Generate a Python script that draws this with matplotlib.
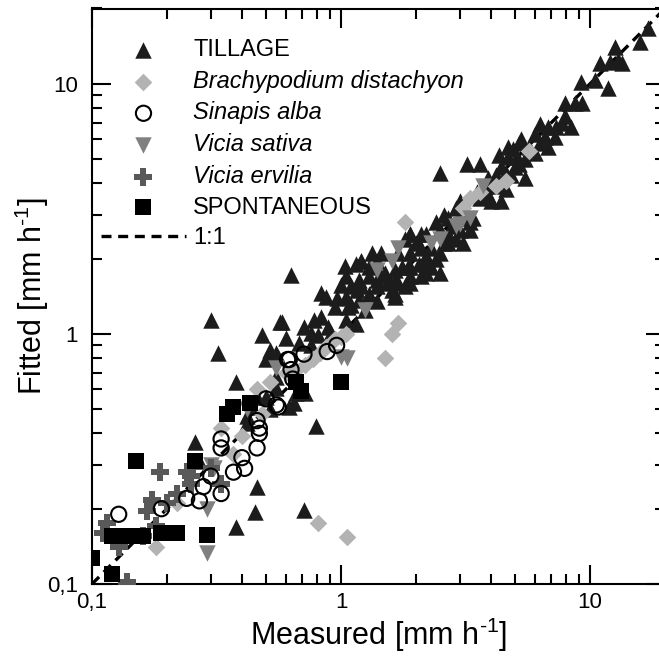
import numpy as np
import matplotlib
matplotlib.use("Agg")
import matplotlib.pyplot as plt

plt.rcParams['font.family'] = ['Liberation Sans', 'DejaVu Sans']
plt.rcParams['mathtext.default'] = 'regular'

# TILLAGE (measured, fitted)
tillage_x = [17.1, 15.8, 12.6, 13.0, 13.5, 11.0, 12.0, 9.2, 10.5, 11.8, 7.9, 8.7, 9.3, 7.9, 7.3, 8.4,
             6.8, 6.0, 6.6, 7.2, 5.2, 5.7, 4.7, 6.0, 6.8, 4.7, 4.3, 5.1, 5.5, 4.4, 5.0, 4.2, 4.6, 5.5,
             3.6, 3.2, 2.5, 3.8, 4.2, 4.6, 4.4, 4.0, 3.6, 2.9, 3.2, 3.4, 3.3, 3.0, 2.8, 2.7, 2.9, 2.6,
             2.5, 2.2, 2.1, 1.9, 2.0, 2.1, 2.3, 2.5, 1.9, 2.2, 2.05, 2.3, 1.9, 1.75, 1.7, 1.65, 1.7,
             1.9, 2.1, 2.2, 1.45, 1.4, 1.3, 1.2, 1.15, 1.3, 1.45, 1.55, 1.4, 1.2, 1.1, 1.3, 1.65,
             3.1, 2.5, 2.2,
             0.63, 0.83, 1.04, 0.58, 0.48, 0.6, 0.71, 0.78, 0.83, 0.89, 0.91, 0.81, 0.76, 0.68, 0.76,
             0.52, 0.55, 1.0, 1.05, 0.95, 1.07, 0.96, 1.16, 1.18, 1.2, 1.33, 1.18, 1.25, 1.15, 1.05,
             1.65, 1.65, 1.8, 1.85, 1.8, 1.9, 1.4, 1.5, 0.87,
             0.3, 0.32, 0.57, 0.38, 0.79, 0.65, 0.46, 0.45, 0.38, 0.71, 0.26, 0.27,
             0.56, 0.5, 0.55, 0.66, 0.72, 0.55, 0.5, 0.46, 0.42, 0.44, 0.42, 0.52, 0.62,
             2.4, 2.6, 3.5, 3.9, 4.9, 5.3, 6.3, 3.0, 2.7, 3.9, 4.8, 5.2, 6.3, 7.7, 1.6, 1.4,
             1.9, 2.4, 2.7, 3.3, 1.05, 1.1]
tillage_y = [16.7, 14.7, 14.0, 12.5, 12.1, 12.1, 12.2, 10.2, 10.4, 9.6, 8.4, 8.4, 8.4, 7.4, 6.7, 6.7,
             6.7, 6.3, 6.1, 6.1, 5.8, 5.6, 5.6, 5.3, 5.6, 5.1, 5.2, 5.1, 5.0, 4.65, 4.65, 4.3, 4.4, 4.2,
             4.8, 4.8, 4.4, 3.9, 3.9, 3.8, 3.4, 3.4, 3.5, 3.2, 2.9, 2.9, 2.6, 2.6, 2.7, 2.5, 2.4, 2.3,
             2.6, 2.5, 2.5, 2.5, 2.3, 2.2, 2.2, 2.1, 2.1, 2.05, 1.9, 1.85, 1.85, 1.85, 2.1, 1.8, 1.6,
             1.6, 1.7, 1.75, 2.1, 1.95, 1.85, 1.95, 1.9, 1.7, 1.7, 1.6, 1.55, 1.55, 1.55, 1.45, 1.45,
             2.3, 1.75, 1.9,
             1.72, 1.46, 1.86, 1.12, 0.99, 0.96, 1.07, 1.14, 1.17, 1.07, 1.01, 0.99, 1.01, 0.92, 0.9,
             0.86, 0.84, 1.57, 1.41, 1.28, 1.28, 1.39, 1.5, 1.65, 1.95, 2.1, 1.37, 1.25, 1.1, 1.14,
             1.41, 1.65, 1.55, 1.85, 2.4, 2.5, 1.65, 1.75, 1.41,
             1.14, 0.84, 1.12, 0.64, 0.43, 0.53, 0.245, 0.194, 0.169, 0.198, 0.37, 0.31,
             0.81, 0.79, 0.61, 0.58, 0.58, 0.67, 0.56, 0.56, 0.47, 0.51, 0.44, 0.5, 0.51,
             2.8, 3.0, 3.7, 4.2, 5.5, 6.0, 6.9, 3.4, 2.9, 3.6, 4.3, 4.8, 5.8, 7.0, 1.5, 1.35,
             1.7, 2.0, 2.3, 2.8, 1.7, 1.3]

# Brachypodium distachyon
brachy_x = [1.8, 3.1, 3.3, 3.6, 4.2, 4.6, 5.7, 1.7, 1.6, 1.5, 0.81, 1.06,
            0.95, 1.0, 0.87, 0.82, 0.77, 0.72, 1.05, 0.52, 0.46, 0.48, 0.4, 0.33,
            0.37, 0.22, 0.18, 0.6, 0.66]
brachy_y = [2.8, 3.2, 3.5, 3.7, 3.9, 4.1, 5.4, 1.11, 1.0, 0.8, 0.175, 0.154,
            0.95, 0.97, 0.89, 0.84, 0.79, 0.75, 1.0, 0.64, 0.6, 0.48, 0.39, 0.42,
            0.33, 0.21, 0.14, 0.7, 0.72]

# Sinapis alba
sinapis_x = [0.128, 0.19, 0.24, 0.27, 0.28, 0.30, 0.33, 0.37, 0.41, 0.4, 0.46, 0.47,
             0.33, 0.33, 0.5, 0.56, 0.46, 0.47, 0.63, 0.64, 0.61, 0.71, 0.88, 0.96,
             0.62, 0.55]
sinapis_y = [0.19, 0.2, 0.22, 0.215, 0.245, 0.27, 0.23, 0.28, 0.29, 0.32, 0.35, 0.4,
             0.35, 0.38, 0.55, 0.51, 0.45, 0.42, 0.72, 0.66, 0.79, 0.83, 0.85, 0.9,
             0.79, 0.52]

# Vicia sativa
sativa_x = [3.7, 3.3, 3.0, 2.5, 2.3, 1.7, 1.6, 1.4, 1.25, 1.06, 1.0, 0.55, 0.29, 0.29,
            0.42, 0.3, 0.31, 2.9]
sativa_y = [3.9, 2.9, 2.75, 2.4, 2.3, 2.2, 1.95, 1.8, 1.25, 0.8, 0.81, 0.73, 0.2, 0.133,
            0.5, 0.3, 0.29, 2.7]

# Vicia ervilia
ervilia_x = [0.187, 0.174, 0.166, 0.16, 0.115, 0.111, 0.128, 0.138, 0.18, 0.2, 0.24,
             0.25, 0.22, 0.3, 0.33, 0.25]
ervilia_y = [0.28, 0.216, 0.196, 0.155, 0.175, 0.16, 0.14, 0.102, 0.17, 0.21, 0.28,
             0.25, 0.23, 0.29, 0.25, 0.27]

# SPONTANEOUS
spont_x = [0.15, 0.1, 0.12, 0.12, 0.13, 0.14, 0.16, 0.19, 0.22, 0.29, 0.26, 0.35,
           0.37, 0.43, 0.66, 0.69, 1.0]
spont_y = [0.31, 0.127, 0.11, 0.156, 0.156, 0.156, 0.156, 0.16, 0.16, 0.157, 0.31, 0.48,
           0.51, 0.53, 0.64, 0.59, 0.64]

one_to_one = [0.1, 20]

fig = plt.figure(figsize=(6.59, 6.57), dpi=100)
ax = fig.add_axes([92 / 659, 1 - 584 / 657, (665 - 92) / 659, (584 - 8.5) / 657])

ax.plot(one_to_one, one_to_one, color='black', lw=2.4, ls=(0, (3, 2)), label='1:1', zorder=2)
ax.scatter(tillage_x, tillage_y, marker='^', s=140, color='#1c1c1c', linewidths=0,
           label='TILLAGE', zorder=3)
ax.scatter(brachy_x, brachy_y, marker='D', s=80, color='#b3b3b3', linewidths=0,
           label='Brachypodium distachyon', zorder=4)
ax.scatter(sinapis_x, sinapis_y, marker='o', s=120, facecolors='none', edgecolors='black',
           linewidths=1.5, label='Sinapis alba', zorder=5)
ax.scatter(sativa_x, sativa_y, marker='v', s=140, color='#808080', linewidths=0,
           label='Vicia sativa', zorder=4)
ax.scatter(ervilia_x, ervilia_y, marker='P', s=150, color='#595959', linewidths=0,
           label='Vicia ervilia', zorder=4)
ax.scatter(spont_x, spont_y, marker='s', s=120, color='black', linewidths=0,
           label='SPONTANEOUS', zorder=4)

ax.set_xscale('log')
ax.set_yscale('log')
ax.set_xlim(0.1, 20)
ax.set_ylim(0.1, 20)

ax.set_xticks([0.1, 1, 10])
ax.set_xticklabels(['0,1', '1', '10'])
ax.set_yticks([0.1, 1, 10])
ax.set_yticklabels(['0,1', '1', '10'])
ax.tick_params(which='both', direction='in', top=True, right=True, width=1.5, labelsize=16)
ax.tick_params(which='major', length=14)
ax.tick_params(which='minor', length=7)
ax.tick_params(axis='y', pad=10)
ax.tick_params(axis='x', pad=6)
for sp in ax.spines.values():
    sp.set_linewidth(1.5)

ax.set_xlabel('Measured [mm h$^{\u2010 1}$]', fontsize=22, labelpad=2)
ax.set_ylabel('Fitted [mm h$^{\u2010 1}$]', fontsize=22, labelpad=-3)

handles, labels = ax.get_legend_handles_labels()
order = [1, 2, 3, 4, 5, 6, 0]
leg = ax.legend([handles[i] for i in order], [labels[i] for i in order],
                loc='upper left', bbox_to_anchor=(0.0157, 0.947), frameon=False, fontsize=17,
                handlelength=3.6, handletextpad=0.3, labelspacing=0.37, borderaxespad=0,
                borderpad=0, scatterpoints=1)
for t in leg.get_texts()[1:5]:
    t.set_style('italic')

fig.savefig('out.png', dpi=100)
